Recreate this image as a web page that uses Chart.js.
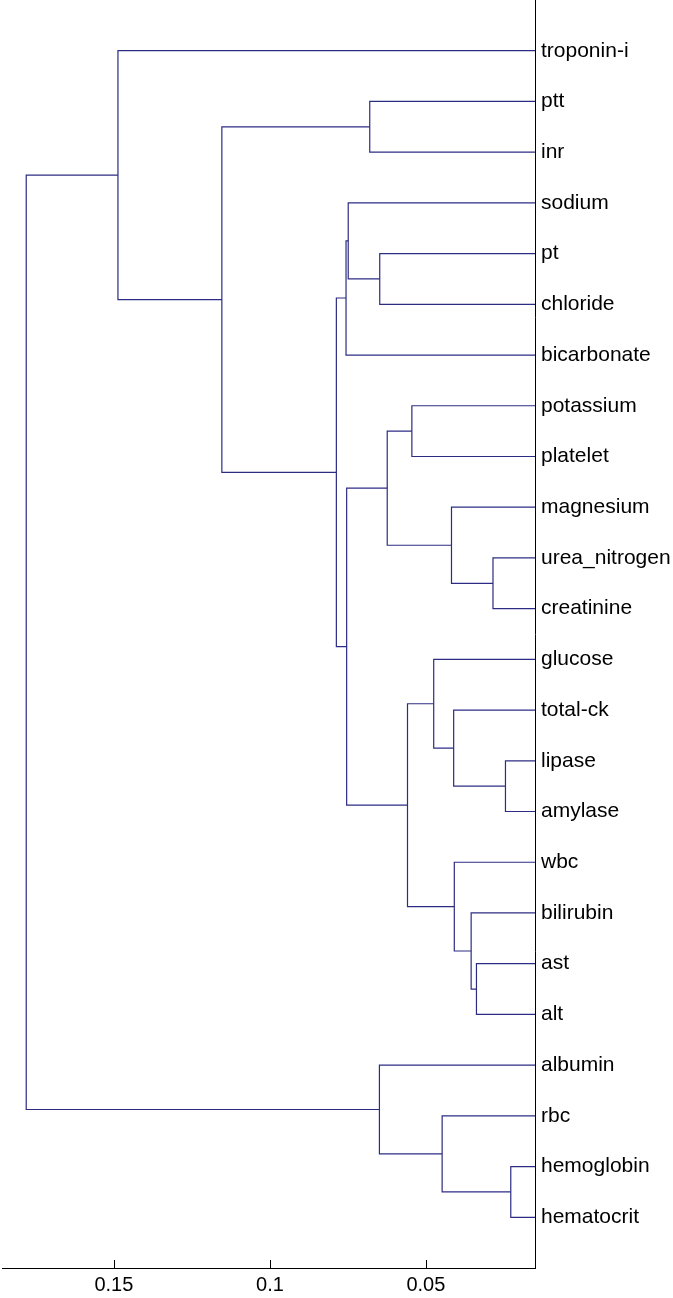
<!DOCTYPE html>
<html><head><meta charset="utf-8">
<script src="https://cdn.jsdelivr.net/npm/chart.js@4"></script>
<style>html,body{margin:0;padding:0;background:#fff;}canvas{display:block;}</style>
</head><body>
<canvas id="c" width="673" height="1298"></canvas>
<script>
// Leaves in display order (top to bottom)
const leafLabels = ['troponin-i','ptt','inr','sodium','pt','chloride','bicarbonate','potassium','platelet','magnesium','urea_nitrogen','creatinine','glucose','total-ck','lipase','amylase','wbc','bilirubin','ast','alt','albumin','rbc','hemoglobin','hematocrit'];
// Linkage: leaves are 1..24, merged clusters are numbered 25, 26, ...
const mergeLeft   = [23, 15, 11, 19, 18, 17, 14, 10, 22, 13,  8, 34, 35,  5, 21,  2,  4, 37, 41, 43, 40,  1, 46];
const mergeRight  = [24, 16, 12, 20, 28, 29, 26, 27, 25, 31,  9, 30, 32,  6, 33,  3, 38, 36,  7, 42, 44, 45, 39];
const mergeHeight = [0.0228, 0.0245, 0.0285, 0.0338, 0.0355, 0.0409, 0.0411, 0.0418, 0.0448, 0.0475, 0.0545, 0.0559, 0.0624, 0.0648, 0.0649, 0.0680, 0.0749, 0.0754, 0.0756, 0.0787, 0.1154, 0.1487, 0.1781];
const xTickValues = [0.15, 0.1, 0.05];
const xTickLabels = ['0.15', '0.1', '0.05'];

const lineColor = '#2c2c84';
const nLeaves = leafLabels.length;
const nodeY = {}, nodeH = {};
for (let i = 1; i <= nLeaves; i++) { nodeY[i] = i; nodeH[i] = 0; }
const datasets = [];
mergeHeight.forEach((h, k) => {
  const id = nLeaves + 1 + k;
  const a = mergeLeft[k], b = mergeRight[k];
  nodeY[id] = (nodeY[a] + nodeY[b]) / 2;
  nodeH[id] = h;
  datasets.push({
    data: [{x: nodeH[a], y: nodeY[a]}, {x: h, y: nodeY[a]}, {x: h, y: nodeY[b]}, {x: nodeH[b], y: nodeY[b]}],
    showLine: true, borderColor: lineColor, borderWidth: 1.2, pointRadius: 0,
    fill: false, tension: 0, clip: 0
  });
});
const hMin = Math.min(...mergeHeight), hMax = Math.max(...mergeHeight);
const pad = 0.05 * (hMax - hMin);
const fontFam = '"Liberation Sans", Arial, Helvetica, sans-serif';

const innerTicks = {
  id: 'innerTicks',
  afterDraw(chart) {
    const {ctx, chartArea, scales} = chart;
    ctx.save();
    ctx.strokeStyle = '#000';
    ctx.lineWidth = 1;
    xTickValues.forEach(v => {
      const px = Math.round(scales.x.getPixelForValue(v)) + 0.5;
      ctx.beginPath();
      ctx.moveTo(px, chartArea.bottom);
      ctx.lineTo(px, chartArea.bottom - 8);
      ctx.stroke();
    });
    ctx.restore();
  }
};

new Chart(document.getElementById('c'), {
  type: 'scatter',
  data: { datasets },
  plugins: [innerTicks],
  options: {
    responsive: false, animation: false, devicePixelRatio: 1,
    layout: { padding: { left: 2, top: 0, right: 0, bottom: 0 } },
    plugins: { legend: { display: false }, tooltip: { enabled: false } },
    scales: {
      x: {
        type: 'linear', reverse: true, position: 'bottom',
        min: hMin - pad, max: hMax + pad,
        grid: { display: false, drawTicks: false },
        border: { display: true, color: '#000', width: 1 },
        afterBuildTicks: s => { s.ticks = xTickValues.map(v => ({ value: v })); },
        afterFit: s => { s.height = 30; s.paddingLeft = 0; s.paddingRight = 0; },
        ticks: {
          callback: (v, i) => xTickLabels[i],
          color: '#000', font: { family: fontFam, size: 20 },
          padding: 5, maxRotation: 0, autoSkip: false
        }
      },
      y: {
        type: 'linear', reverse: true, position: 'right',
        min: 0, max: nLeaves + 1,
        grid: { display: false, drawTicks: false },
        border: { display: true, color: '#000', width: 1 },
        afterBuildTicks: s => { s.ticks = leafLabels.map((_, i) => ({ value: i + 1 })); },
        afterFit: s => { s.width = 138; s.paddingTop = 0; s.paddingBottom = 0; },
        ticks: {
          callback: (v, i) => leafLabels[i],
          color: '#000', font: { family: fontFam, size: 21 },
          padding: 6, autoSkip: false
        }
      }
    }
  }
});
</script>
</body></html>
